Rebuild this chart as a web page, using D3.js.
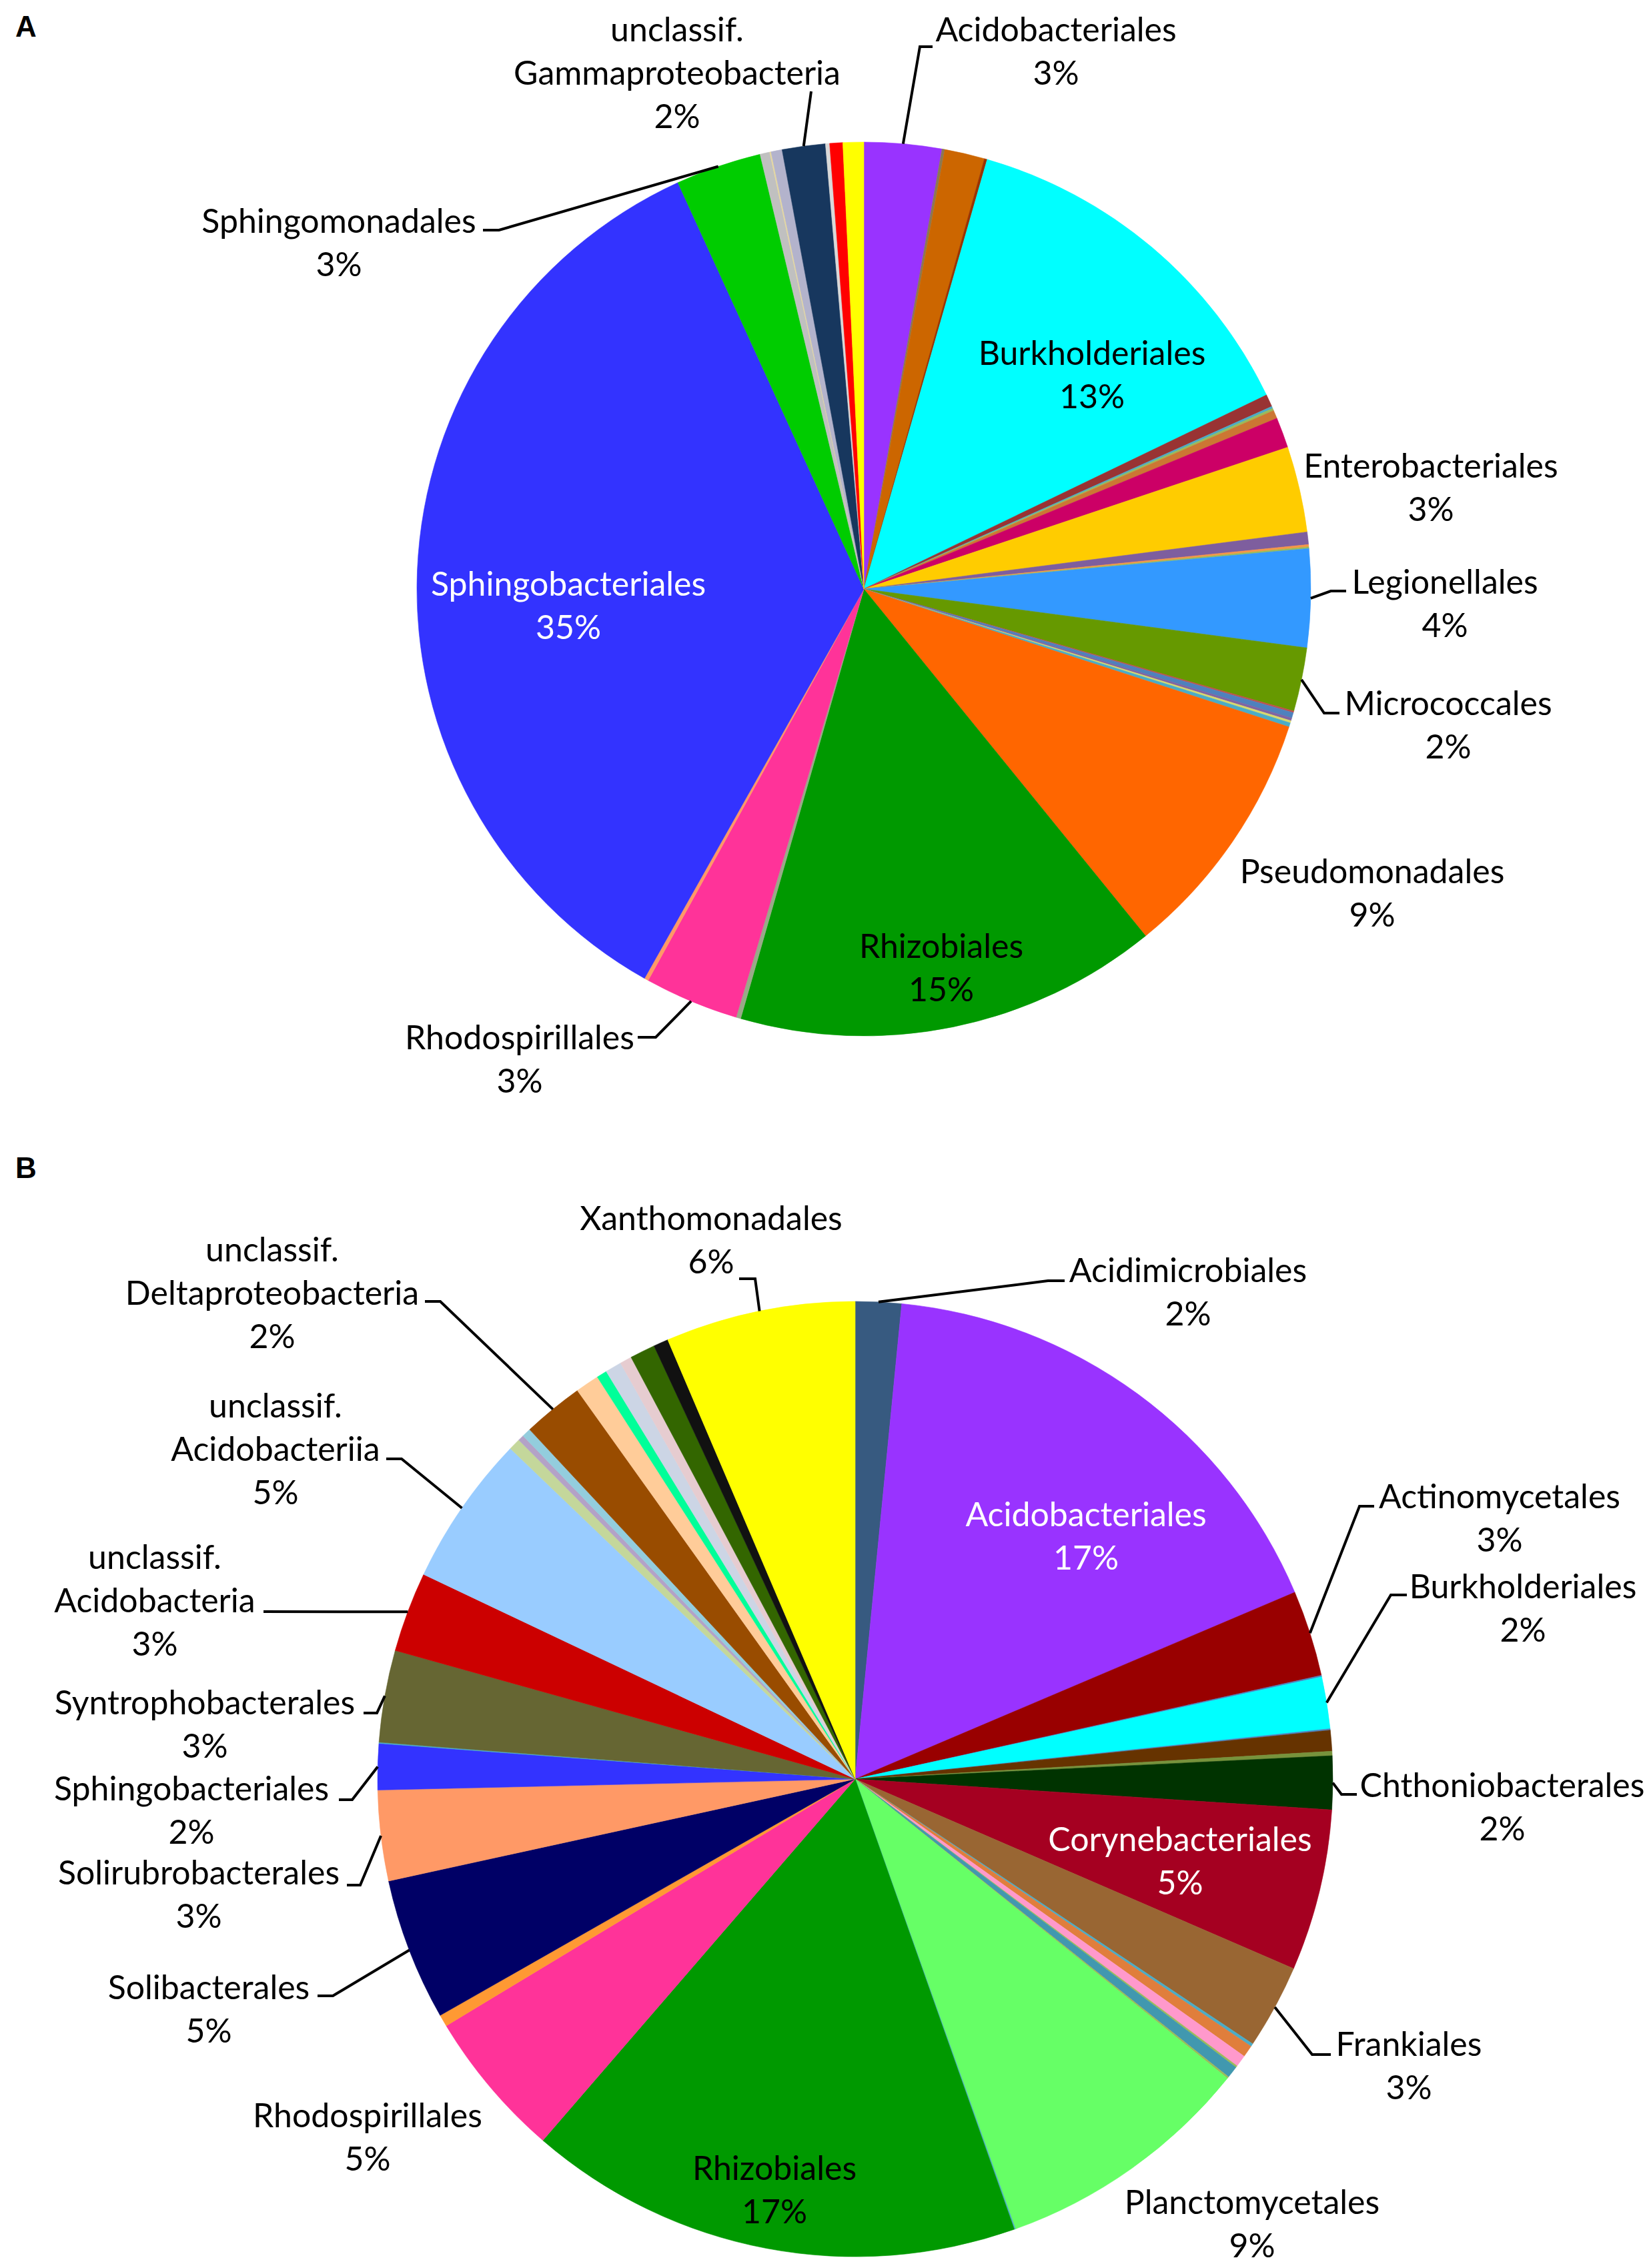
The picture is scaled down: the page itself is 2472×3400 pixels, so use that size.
<!DOCTYPE html>
<html>
<head>
<meta charset="utf-8">
<script src="https://cdn.jsdelivr.net/npm/d3@7/dist/d3.min.js"></script>
<style>
  body { margin: 0; background: #fff; }
</style>
</head>
<body>
<div id="chart"></div>
<script>
/**
 * Two pie charts (A, B) of bacterial orders, relative abundance in %
 */

// ---- panel A data, clockwise from 12 o'clock ("other" = unlabelled small orders)
var ordersA = ["Acidobacteriales", "other", "other", "other", "Burkholderiales",
    "other", "other", "other", "other", "other", "Enterobacteriales",
    "other", "other", "other", "Legionellales", "Micrococcales",
    "other", "other", "other", "other", "other", "Pseudomonadales",
    "Rhizobiales", "other", "Rhodospirillales", "other", "Sphingobacteriales",
    "Sphingomonadales", "other", "other", "other", "unclassif. Gammaproteobacteria",
    "other", "other", "other"];
var valuesA = [2.8, 0.1, 1.45, 0.1, 13.4,
    0.45, 0.08, 0.08, 0.3, 1.1, 3.1,
    0.45, 0.08, 0.06, 3.55, 2.3,
    0.06, 0.2, 0.1, 0.08, 0.15, 9.15,
    15.3, 0.17, 3.4, 0.15, 35.0,
    3.1, 0.35, 0.05, 0.4, 1.56,
    0.15, 0.47, 0.75];

// ---- panel B data
var ordersB = ["Acidimicrobiales", "Acidobacteriales", "Actinomycetales", "other",
    "Burkholderiales", "other", "other", "other", "Chthoniobacterales",
    "Corynebacteriales", "Frankiales", "other", "other", "other", "other", "other",
    "other", "Planctomycetales", "other", "Rhizobiales", "Rhodospirillales", "other",
    "Solibacterales", "Solirubrobacterales", "Sphingobacteriales", "other",
    "Syntrophobacterales", "unclassif. Acidobacteria", "unclassif. Acidobacteriia",
    "other", "other", "other", "unclassif. Deltaproteobacteria",
    "other", "other", "other", "other", "other", "other", "Xanthomonadales"];
var valuesB = [1.55, 17.0, 2.9, 0.05,
    1.75, 0.05, 0.7, 0.15, 1.8,
    5.45, 2.85, 0.1, 0.4, 0.4, 0.06, 0.4,
    0.06, 8.75, 0.04, 16.7, 5.0, 0.4,
    4.8, 3.05, 1.55, 0.04,
    3.1, 2.7, 5.1,
    0.4, 0.2, 0.3, 2.05,
    0.8, 0.35, 0.55, 0.4, 0.85, 0.5, 6.4];

// slice colours (same order as the data)
var paletteA = ["#9933FF", "#8C7853", "#CC6600", "#993300", "#00FFFF",
    "#993333", "#4BACC6", "#9BBB59", "#CC7733", "#CC0066", "#FFCC00",
    "#7E5E9E", "#F79646", "#9BBB59", "#3399FF", "#669900",
    "#C0504D", "#4F81BD", "#8064A2", "#D9D96C", "#4BACC6", "#FF6600",
    "#009900", "#99AA88", "#FF3399", "#FF9966", "#3333FF",
    "#00CC00", "#C0C0C0", "#E6D8A0", "#B3B3CC", "#17375E",
    "#D9D9D9", "#FF0000", "#FFFF00"];
var paletteB = ["#375A80", "#9933FF", "#990000", "#4F81BD",
    "#00FFFF", "#4F81BD", "#663300", "#77933C", "#003300",
    "#A50021", "#996633", "#4BACC6", "#E07E3C", "#FF99CC", "#9BBB59", "#4198AF",
    "#9BBB59", "#66FF66", "#4BACC6", "#009900", "#FF3399", "#FF9933",
    "#000066", "#FF9966", "#3333FF", "#4BACC6",
    "#666633", "#CC0000", "#99CCFF",
    "#C4D79B", "#B3A2C7", "#93CDDD", "#994C00",
    "#FFCC99", "#00FF99", "#CCD5E5", "#E6CCD0", "#336600", "#111111", "#FFFF00"];

// label placement: first line centre, optional leader bend/end points
var labelsA = {
    "Acidobacteriales":   {x: 1583, y: 43,  leader: [[1379, 70], [1398, 70]]},
    "Burkholderiales":    {x: 1637, y: 528},
    "Enterobacteriales":  {x: 2145, y: 697},
    "Legionellales":      {x: 2166, y: 871, leader: [[1995, 886], [2018, 886]]},
    "Micrococcales":      {x: 2171, y: 1053, leader: [[1985, 1069], [2008, 1069]]},
    "Pseudomonadales":    {x: 2057, y: 1305},
    "Rhizobiales":        {x: 1411, y: 1417},
    "Rhodospirillales":   {x: 779,  y: 1554, leader: [[983, 1555], [956, 1555]]},
    "Sphingobacteriales": {x: 852,  y: 874, white: true},
    "Sphingomonadales":   {x: 508,  y: 330, leader: [[748, 345], [724, 345]]},
    "unclassif. Gammaproteobacteria": {x: 1015, y: 43, leader: [[1216, 137]]}
};
var labelsB = {
    "Acidimicrobiales":   {x: 1781, y: 1903, leader: [[1571, 1920], [1596, 1920]]},
    "Acidobacteriales":   {x: 1628, y: 2269, white: true},
    "Actinomycetales":    {x: 2248, y: 2242, leader: [[2038, 2258], [2060, 2258]]},
    "Burkholderiales":    {x: 2283, y: 2377, leader: [[2085, 2391], [2109, 2391]]},
    "Chthoniobacterales": {x: 2252, y: 2675, leader: [[2011, 2690], [2034, 2690]]},
    "Corynebacteriales":  {x: 1769, y: 2756, white: true},
    "Frankiales":         {x: 2112, y: 3063, leader: [[1967, 3080], [1995, 3080]]},
    "Planctomycetales":   {x: 1877, y: 3300},
    "Rhizobiales":        {x: 1161, y: 3249},
    "Rhodospirillales":   {x: 551,  y: 3170},
    "Solibacterales":     {x: 313,  y: 2978, leader: [[499, 2992], [476, 2992]]},
    "Solirubrobacterales":{x: 298,  y: 2806, leader: [[540, 2826], [520, 2826]]},
    "Sphingobacteriales": {x: 287,  y: 2680, leader: [[528, 2698], [508, 2698]]},
    "Syntrophobacterales":{x: 307,  y: 2551, leader: [[565, 2568], [545, 2568]]},
    "unclassif. Acidobacteria":  {x: 232, y: 2333, leader: [[395, 2416]]},
    "unclassif. Acidobacteriia": {x: 413, y: 2106, leader: [[602, 2187], [579, 2187]]},
    "unclassif. Deltaproteobacteria": {x: 408, y: 1872, leader: [[660, 1951], [637, 1951]]},
    "Xanthomonadales":    {x: 1066, y: 1825, leader: [[1132, 1917], [1108, 1917]]}
};

var W = 2472, H = 3400;
var lineGap = 65;

var svg = d3.select("#chart")
    .append("svg")
    .attr("width", W)
    .attr("height", H)
    .style("font-family", "Lato, 'Open Sans', sans-serif");

svg.append("rect").attr("width", W).attr("height", H).attr("fill", "#fff");

// draw one pie with its labels
function drawPie(orders, values, palette, labels, cx, cy, r) {
    var pie = d3.pie().sort(null).value(function(d){ return d; });
    var arcs = pie(values);
    var total = d3.sum(values);
    var color = d3.scaleOrdinal().domain(d3.range(values.length)).range(palette);

    var arc = d3.arc().innerRadius(0).outerRadius(r);
    var rim = d3.arc().innerRadius(r).outerRadius(r);

    var g = svg.append("g").attr("transform", "translate(" + cx + "," + cy + ")");
    g.selectAll("path")
        .data(arcs)
        .enter()
            .append("path")
            .attr("d", arc)
            .attr("fill", function(d,i){ return color(i); })
            .attr("stroke", function(d,i){ return color(i); })
            .attr("stroke-width", 0.6);

    arcs.forEach(function(d, i){
        var lab = labels[orders[i]];
        if (!lab) return;

        // leader line: rim point at mid angle, then bend/end points
        if (lab.leader) {
            var p = rim.centroid(d);
            var pts = [[cx + p[0], cy + p[1]]].concat(lab.leader);
            svg.append("path")
                .attr("d", d3.line()(pts))
                .attr("fill", "none")
                .attr("stroke", "#000")
                .attr("stroke-width", 4);
        }

        var lines = orders[i].indexOf("unclassif. ") === 0
            ? ["unclassif.", orders[i].slice(11)] : [orders[i]];
        lines.push(Math.round(values[i] / total * 100) + "%");

        var t = svg.append("text")
            .attr("text-anchor", "middle")
            .attr("font-size", 50)
            .attr("fill", lab.white ? "#fff" : "#000");
        lines.forEach(function(s, k){
            t.append("tspan")
                .attr("x", lab.x)
                .attr("y", lab.y + k * lineGap)
                .attr("dominant-baseline", "central")
                .text(s);
        });
    });
}

drawPie(ordersA, valuesA, paletteA, labelsA, 1295, 883, 670);
drawPie(ordersB, valuesB, paletteB, labelsB, 1282, 2667, 716);

// panel letters
svg.append("text")
    .attr("x", 39).attr("y", 39)
    .attr("text-anchor", "middle")
    .attr("dominant-baseline", "central")
    .attr("font-family", "'Liberation Sans', Arial, sans-serif")
    .attr("font-weight", "bold")
    .attr("font-size", 44)
    .text("A");
svg.append("text")
    .attr("x", 39).attr("y", 1750)
    .attr("text-anchor", "middle")
    .attr("dominant-baseline", "central")
    .attr("font-family", "'Liberation Sans', Arial, sans-serif")
    .attr("font-weight", "bold")
    .attr("font-size", 44)
    .text("B");
</script>
</body>
</html>
